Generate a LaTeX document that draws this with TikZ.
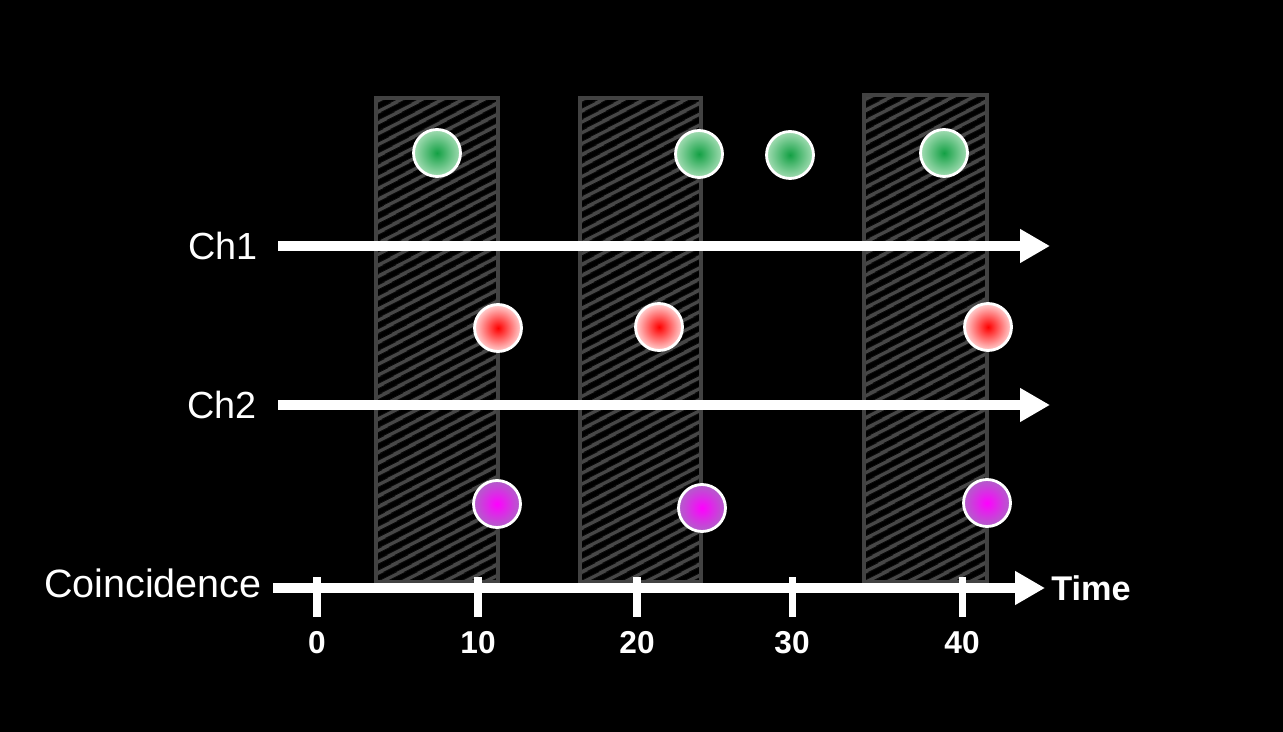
\documentclass[tikz,border=0pt]{standalone}
\usepackage{fontspec}
\setmainfont{Liberation Sans}
\usetikzlibrary{arrows.meta, patterns.meta, positioning}
\definecolor{winedge}{HTML}{424242}
\definecolor{winline}{HTML}{474747}
\definecolor{greenin}{HTML}{13A044}
\definecolor{greenout}{HTML}{A4DDB4}
\definecolor{redin}{HTML}{FF0000}
\definecolor{redout}{HTML}{FFD4D4}
\definecolor{magin}{HTML}{FF00FF}
\definecolor{magout}{HTML}{B060C8}
\tikzstyle{window} = [
    draw=winedge,
    line width=1.8pt,
    pattern={Lines[angle=28, distance=5.4pt, line width=2.2pt]},
    pattern color=winline
]
\tikzstyle{hit} = [
    circle,
    draw=white,
    line width=1.6pt,
    minimum size=0.94cm,
    inner sep=0pt
]
\tikzstyle{greenhit} = [hit, inner color=greenin, outer color=greenout]
\tikzstyle{redhit} = [hit, inner color=redin, outer color=redout]
\tikzstyle{maghit} = [hit, inner color=magin, outer color=magout]
\tikzstyle{axis} = [
    white,
    line width=5.2pt,
    -{Triangle[length=0.6cm, width=0.64cm]}
]
\tikzstyle{chlabel} = [
    text=white,
    inner sep=0pt,
    font=\fontsize{21.5}{25}\selectfont
]
\tikzstyle{ticklabel} = [
    text=white,
    inner sep=0pt,
    font=\fontsize{18}{21}\selectfont\bfseries
]
\begin{document}
\begin{tikzpicture}[x=0.02cm, y=-0.02cm]

    % Background
    \fill [black] (0,0) rectangle (1283,732);
    \useasboundingbox (0,0) rectangle (1283,732);

    % Coincidence windows
    \draw [window] (376,98) rectangle (498,582);
    \draw [window] (580,98) rectangle (701,582);
    \draw [window] (864,95) rectangle (987,582);

    % Channel axes
    \coordinate (ch1start) at (278,246);
    \coordinate (ch1end) at (1050,246);
    \coordinate (ch2start) at (278,405);
    \coordinate (ch2end) at (1050,405);
    \coordinate (cstart) at (273,588);
    \coordinate (cend) at (1045,588);
    \draw [axis] (ch1start) -- (ch1end);
    \draw [axis] (ch2start) -- (ch2end);
    \draw [axis] (cstart) -- (cend);

    % Labels
    \node (ch1lab) [chlabel, left=0.4cm of ch1start] {Ch1};
    \node (ch2lab) [chlabel, left=0.42cm of ch2start] {Ch2};
    \node (coinclab) [chlabel, left=0.22cm of cstart, yshift=0.1cm, font=\fontsize{22.5}{26}\selectfont] {Coincidence};
    \node (timelab) [ticklabel, right=0.12cm of cend, font=\fontsize{19.5}{23}\selectfont\bfseries] {Time};

    % Ticks
    \foreach \x/\v in {317/0, 478/10, 637/20, 792/30, 962/40} {
        \draw [white, line width=4pt] (\x,577) -- (\x,617);
        \node (t\v) [ticklabel] at (\x,643) {\v};
    }

    % Hits
    \node (g1) [greenhit] at (437,153) {};
    \node (g2) [greenhit] at (699,154) {};
    \node (g3) [greenhit] at (790,155) {};
    \node (g4) [greenhit] at (944,153) {};
    \node (r1) [redhit] at (498,328) {};
    \node (r2) [redhit] at (659,327) {};
    \node (r3) [redhit] at (988,327) {};
    \node (m1) [maghit] at (497,504) {};
    \node (m2) [maghit] at (702,508) {};
    \node (m3) [maghit] at (987,503) {};

\end{tikzpicture}
\end{document}
